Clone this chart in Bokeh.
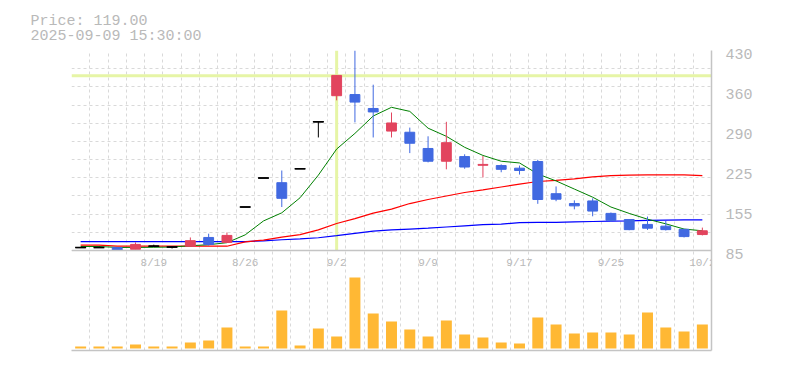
from bokeh.plotting import figure
from bokeh.models import Range1d, FixedTicker, Span, Title, ColumnDataSource
from bokeh.core.properties import value
from bokeh.embed import file_html
from bokeh.resources import INLINE

# ---------------- data ----------------
dates = ["8/13", "8/14", "8/15", "8/18", "8/19", "8/20", "8/21", "8/22", "8/25", "8/26",
         "8/27", "8/28", "8/29", "9/1", "9/2", "9/3", "9/4", "9/5", "9/8", "9/9",
         "9/10", "9/11", "9/12", "9/16", "9/17", "9/18", "9/19", "9/22", "9/24", "9/25",
         "9/26", "9/29", "9/30", "10/1", "10/2"]
opens = [90, 90, 90, 87, 92.5, 91, 92.5, 107.5, 99, 160,
         210, 202, 226, 307, 352, 354, 330, 291, 289, 261,
         239, 247, 232, 231.5, 227, 238.5, 183, 166, 170.5, 149,
         138.5, 130, 127, 121.5, 112.5]
highs = [90, 91.5, 90, 99, 95, 91, 107.5, 114, 116, 160,
         210, 223, 226, 307, 387, 430, 371, 323, 297, 282,
         307, 251, 248, 233.5, 231.5, 241.5, 195.5, 171.5, 175, 150.5,
         138.5, 143.5, 136, 121.5, 124.5]
lows = [90, 90, 84.5, 87, 91.5, 88.5, 92.5, 93.5, 99, 160,
        210, 160, 226, 280, 344, 306, 280, 280, 253, 237,
        225, 226, 211, 220, 216, 165.5, 170, 156, 144, 134.5,
        120, 120.5, 119.5, 107.5, 111]
closes = [90, 90, 85.5, 95.5, 92.5, 91, 102, 95.5, 111, 160,
          210, 175, 226, 307, 387, 341, 324, 305, 270, 239,
          271, 229, 233.5, 225, 223, 173, 173.5, 162, 153, 137,
          121, 123.5, 121, 109, 119]
volumes = [6, 6, 6, 12, 6, 6, 18, 24, 63, 6,
           6, 114, 9, 60, 36, 213, 105, 81, 57, 36,
           84, 42, 33, 18, 15, 93, 72, 45, 48, 48,
           42, 108, 63, 51, 72]
ma_short = [91.9, 91.9, 90.3, 90.3, 90.5, 91, 93.2, 95, 98.5, 112,
            136, 150, 176, 215, 260, 287, 317, 332, 325, 296,
            282, 263, 249, 239, 236, 217, 205, 191, 177, 160,
            149, 139, 131, 122, 119]
ma_mid = [94.3, 94.3, 92.4, 92.4, 92.4, 92.4, 92.4, 92.4, 92.4, 100,
          103, 108, 112.5, 120.5, 131.5, 140, 149.5, 156.5, 166, 173,
          179, 185, 189.5, 194.5, 199.5, 204, 206, 208.5, 212, 214,
          215, 215.5, 215.5, 215.5, 214]
ma_long = [100.2, 100.2, 100.2, 100.2, 100.2, 100.2, 100.2, 100.2, 100.2, 100.2,
           101.7, 103.5, 105, 107, 110.5, 114.5, 118.5, 120.5, 122, 123.5,
           125.5, 127.5, 129.5, 130.5, 133, 133.5, 133.5, 134.5, 135, 135.5,
           136, 137, 137.5, 138, 138]
x_tick_labels = ["8/19", "8/26", "9/2", "9/9", "9/17", "9/25", "10/2"]
y_tick_labels = ["85", "155", "225", "290", "360", "430"]
price_lo, price_hi = 85, 430
cross_date = "9/2"
cross_price = 386.5
info_lines = ["Price: 119.00", "2025-09-09 15:30:00"]

# ---------------- styling ----------------
UP, DOWN, FLAT = "#e2445e", "#4169e1", "#000000"
GRID = "#d9d9d9"
AXIS = "#c4c4c4"
TXT = "#b9b9b9"
FONT = "Liberation Mono"
PX = (price_hi - price_lo) / 200.0   # price units per pixel in the price pane

n = len(dates)
xs = list(range(n))
colors = [UP if c > o else (DOWN if c < o else FLAT) for o, c in zip(opens, closes)]

p = figure(width=775, height=360, output_backend="svg", toolbar_location=None,
           x_range=Range1d(-0.5, n - 0.5),
           y_range=Range1d(price_lo - 100 * PX, price_hi),
           y_axis_location="right",
           min_border_left=71, min_border_right=64, min_border_top=50, min_border_bottom=10)
p.outline_line_color = None
p.background_fill_color = "white"
p.border_fill_color = "white"

# grids
p.xgrid.ticker = FixedTicker(ticks=[i - 0.5 for i in range(n + 1)])
p.ygrid.ticker = FixedTicker(ticks=[price_lo + k * (price_hi - price_lo) / 11 for k in range(12)])
for g in (p.xgrid, p.ygrid):
    g.grid_line_color = GRID
    g.grid_line_dash = "3 3"
    g.grid_line_width = 1

# right price axis
ytick_pos = [price_lo + k * (price_hi - price_lo) / 5 - 3.5 * PX for k in range(6)]
p.yaxis.ticker = FixedTicker(ticks=ytick_pos)
p.yaxis.major_label_overrides = {t: lab for t, lab in zip(ytick_pos, y_tick_labels)}
p.yaxis.major_tick_line_color = None
p.yaxis.minor_tick_line_color = None
p.yaxis.axis_line_color = AXIS
p.yaxis.axis_line_width = 1.5
p.yaxis.major_label_standoff = 8
p.yaxis.major_label_text_font = FONT
p.yaxis.major_label_text_font_size = "15px"
p.yaxis.major_label_text_color = TXT

# bottom axis: line only
p.xaxis.ticker = FixedTicker(ticks=[])
p.xaxis.major_tick_line_color = None
p.xaxis.minor_tick_line_color = None
p.xaxis.major_label_text_font_size = "0px"
p.xaxis.axis_line_color = AXIS
p.xaxis.axis_line_width = 1.5

# separator between price and volume panes
p.add_layout(Span(location=price_lo, dimension="width", line_color=AXIS, line_width=1.5))

# volume on its own range
p.extra_y_ranges = {"vol": Range1d(-6, 894)}
p.vbar(x=xs, top=volumes, bottom=0, width=0.6, fill_color="#ffb834", line_color=None,
       y_range_name="vol")

# crosshair
ci = dates.index(cross_date)
p.segment(x0=[ci], y0=[price_lo], x1=[ci], y1=[price_hi], line_color="#e6f5a6", line_width=3)
p.segment(x0=[-0.5], y0=[cross_price], x1=[n - 0.5], y1=[cross_price],
          line_color="#e6f5a6", line_width=3)

# moving averages
p.line(xs, ma_long, line_color="#0000ff", line_width=1.2)
p.line(xs, ma_mid, line_color="#ff0000", line_width=1.2)
p.line(xs, ma_short, line_color="#008000", line_width=1)

# candles
src = ColumnDataSource(dict(x=xs, o=opens, h=highs, l=lows, c=closes, col=colors,
                            top=[max(o, c) for o, c in zip(opens, closes)],
                            bot=[min(o, c) for o, c in zip(opens, closes)]))
p.segment(x0="x", y0="l", x1="x", y1="h", line_color="col", line_width=1, source=src)
p.vbar(x="x", top="top", bottom="bot", width=0.54, fill_color="col", line_color="col",
       line_width=1, source=src)
flat = [i for i in xs if opens[i] == closes[i]]
p.segment(x0=[i - 0.3 for i in flat], y0=[closes[i] for i in flat],
          x1=[i + 0.3 for i in flat], y1=[closes[i] for i in flat],
          line_color=FLAT, line_width=1.5)

# date labels between panes
xt = [dates.index(d) for d in x_tick_labels]
p.text(x=xt, y=[price_lo - 12 * PX] * len(xt), text=x_tick_labels,
       text_align="center", text_baseline="middle",
       text_font=value(FONT), text_font_size="11px", text_color=TXT)

# info text top-left (two-line title)
p.add_layout(Title(text="\n".join(info_lines), align="left", offset=-41, standoff=10,
                   text_font=FONT, text_font_size="15px", text_color=TXT,
                   text_font_style="normal", text_line_height=0.9), "above")

open("out.html", "w").write(file_html(p, INLINE))
